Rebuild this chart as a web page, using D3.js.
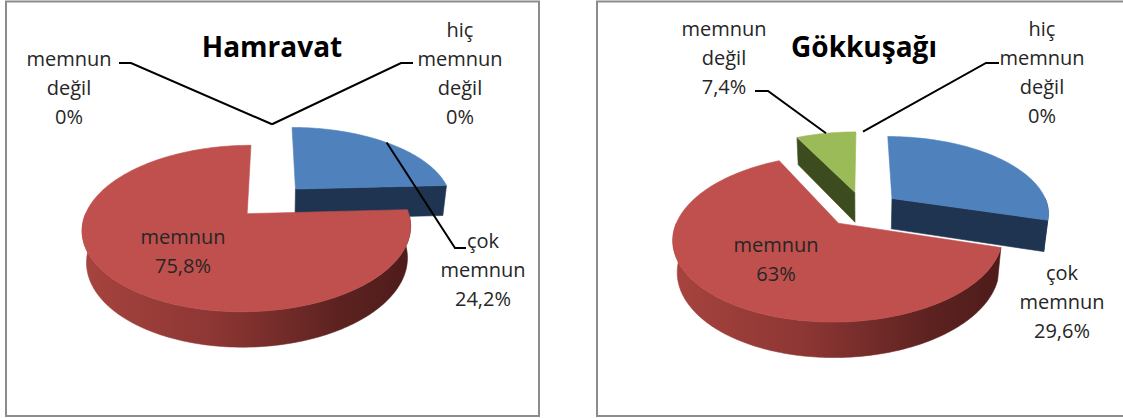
<!DOCTYPE html>
<html>
<head>
<meta charset="utf-8">
<script src="https://cdn.jsdelivr.net/npm/d3@7"></script>
<style>
  html, body { margin: 0; padding: 0; background: #fff; }
  svg { display: block; }
  text { font-family: "Open Sans", "DejaVu Sans", sans-serif; }
</style>
</head>
<body>
<svg id="chart" width="1123" height="418"></svg>
<script>
// ---------------- DATA ----------------
const categories = ["çok memnun", "memnun", "memnun değil", "hiç memnun değil"];
const hamravatValues = [24.2, 75.8, 0, 0];
const gokkusagiValues = [29.6, 63, 7.4, 0];
const chartTitles = ["Hamravat", "Gökkuşağı"];
const categoryLines = [["çok", "memnun"], ["memnun"], ["memnun", "değil"], ["hiç", "memnun", "değil"]];

// ---------------- STYLE / LAYOUT ----------------
const topColors = ["#4f81bd", "#c0504d", "#9bbb59", "#8064a2"];
const sideColors = ["#1f3450", "url(#redSide)", "#3d4c1f", "#3f3151"];
const W = 1123, H = 418;
const R = 157, tilt = 29 * Math.PI / 180, persp = 790, depth = 36;
const sinT = Math.sin(tilt), cosT = Math.cos(tilt);

// per chart layout: panel frame, pie center, title position, label placements
const layouts = [
  {
    frame: {x: 6, y: 1.5, w: 533, h: 414.5},
    cx: 272, cy: 201, explode: 35,
    title: {x: 272, y: 57},
    labels: [
      {x: 483, y: 248, leader: [[466, 248], [455, 248]]},
      {x: 183, y: 244},
      {x: 69, y: 65.5, leader: [[119, 63], [131, 63]]},
      {x: 460, y: 36.5, leader: [[413, 63], [401, 63]]}
    ]
  },
  {
    frame: {x: 597, y: 1.5, w: 540, h: 414.5},
    cx: 863, cy: 209, explode: 37,
    title: {x: 864, y: 57},
    labels: [
      {x: 1062, y: 280},
      {x: 776, y: 252},
      {x: 724, y: 36, leader: [[755, 91], [768, 91]]},
      {x: 1042, y: 36, leader: [[999, 63], [986, 63]]}
    ]
  }
];

const svg = d3.select("#chart");
svg.append("rect").attr("width", W).attr("height", H).attr("fill", "#fff");

const defs = svg.append("defs");

const pie = d3.pie().sort(null).startAngle(0).endAngle(2 * Math.PI);
const line = d3.line();
const fmtPct = v => String(v).replace(".", ",") + "%";

function drawChart(values, title, L, idx) {
  const g = svg.append("g");
  // frame
  g.append("rect")
    .attr("x", L.frame.x).attr("y", L.frame.y)
    .attr("width", L.frame.w).attr("height", L.frame.h)
    .attr("fill", "none").attr("stroke", "#8c8c8c").attr("stroke-width", 2);

  // red side gradient (per chart)
  const grad = defs.append("linearGradient")
    .attr("id", "redSide" + idx)
    .attr("gradientUnits", "userSpaceOnUse")
    .attr("x1", L.cx - R - 40).attr("x2", L.cx + R).attr("y1", 0).attr("y2", 0);
  [[0, "#a8443f"], [0.4, "#8c3633"], [0.75, "#5c2220"], [1, "#4a1a19"]].forEach(([o, c]) =>
    grad.append("stop").attr("offset", o).attr("stop-color", c));
  const sides = sideColors.map(c => c === "url(#redSide)" ? `url(#redSide${idx})` : c);

  const proj = (X, Z, Y) => {
    const rx = X, ry = -Z * sinT - Y * cosT;
    const d = persp + Z * cosT - Y * sinT;
    const s = persp / d;
    return [L.cx + rx * s, L.cy + ry * s];
  };

  const arcs = pie(values).map((a, i) => {
    const mid = (a.startAngle + a.endAngle) / 2;
    return {i, a0: a.startAngle, a1: a.endAngle, mid, value: a.data,
            ox: Math.sin(mid) * L.explode, oz: Math.cos(mid) * L.explode};
  });

  const arcPts = (ox, oz, a0, a1, Y) => {
    const n = Math.max(2, Math.ceil(Math.abs(a1 - a0) / (Math.PI / 180)));
    const pts = [];
    for (let k = 0; k <= n; k++) {
      const a = a0 + (a1 - a0) * k / n;
      pts.push(proj(ox + Math.sin(a) * R, oz + Math.cos(a) * R, Y));
    }
    return pts;
  };

  const order = arcs.filter(d => d.a1 - d.a0 > 1e-6).sort((p, q) => q.oz - p.oz);
  order.forEach(d => {
    const sg = g.append("g");
    const sideFill = sides[d.i];
    const radial = a => {
      const pts = [proj(d.ox, d.oz, 0), proj(d.ox + Math.sin(a) * R, d.oz + Math.cos(a) * R, 0),
                   proj(d.ox + Math.sin(a) * R, d.oz + Math.cos(a) * R, -depth), proj(d.ox, d.oz, -depth)];
      sg.append("path").attr("d", line(pts) + "Z")
        .attr("fill", sideFill).attr("stroke", sideFill).attr("stroke-width", 0.6);
    };
    if (Math.sin(d.a0) < -1e-6) radial(d.a0);
    if (Math.sin(d.a1) > 1e-6) radial(d.a1);
    // outer wall (front half)
    const w0 = Math.max(d.a0, Math.PI / 2), w1 = Math.min(d.a1, 3 * Math.PI / 2);
    if (w1 > w0) {
      const topPts = arcPts(d.ox, d.oz, w0, w1, 0);
      const botPts = arcPts(d.ox, d.oz, w0, w1, -depth).reverse();
      sg.append("path").attr("d", line(topPts.concat(botPts)) + "Z")
        .attr("fill", sideFill).attr("stroke", sideFill).attr("stroke-width", 0.6);
    }
    // top face
    const topFace = [proj(d.ox, d.oz, 0)].concat(arcPts(d.ox, d.oz, d.a0, d.a1, 0));
    sg.append("path").attr("d", line(topFace) + "Z")
      .attr("fill", topColors[d.i]).attr("stroke", topColors[d.i]).attr("stroke-width", 0.6);
  });

  // title
  g.append("text").attr("x", L.title.x).attr("y", L.title.y)
    .attr("text-anchor", "middle").attr("font-size", 28).attr("font-weight", "bold")
    .attr("fill", "#000").text(title);

  // leader lines + labels
  arcs.forEach(d => {
    const lab = L.labels[d.i];
    if (lab.leader) {
      const tip = proj(Math.sin(d.mid) * (R + L.explode), Math.cos(d.mid) * (R + L.explode), 0);
      g.append("path").attr("d", line(lab.leader.concat([tip])))
        .attr("fill", "none").attr("stroke", "#000").attr("stroke-width", 2);
    }
    const lines = categoryLines[d.i].concat([fmtPct(d.value)]);
    const t = g.append("text").attr("text-anchor", "middle").attr("font-size", 20).attr("fill", "#262626");
    lines.forEach((s, k) => t.append("tspan").attr("x", lab.x).attr("y", lab.y + k * 29).text(s));
  });
}

drawChart(hamravatValues, chartTitles[0], layouts[0], 0);
drawChart(gokkusagiValues, chartTitles[1], layouts[1], 1);
</script>
</body>
</html>
